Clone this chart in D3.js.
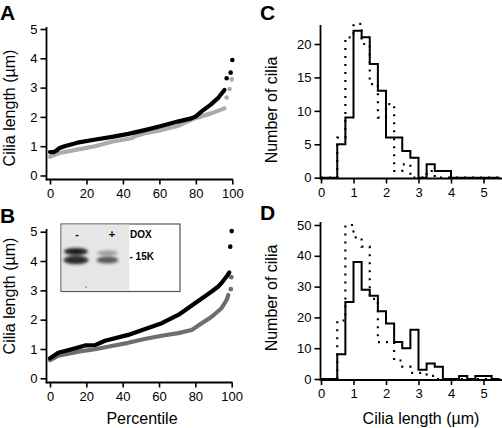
<!DOCTYPE html>
<html><head><meta charset="utf-8">
<script src="https://cdn.jsdelivr.net/npm/d3@7"></script>
<style>
body{margin:0;background:#fff}
svg{display:block}
text{font-family:"Liberation Sans",Arial,Helvetica,sans-serif;fill:#000}
</style>
</head><body>
<svg id="c" width="502" height="428"></svg>
<script>
// ---- Data ----
// Panel A: percentile vs cilia length
const aBlack = [[0,0.80],[2,0.80],[3.5,0.85],[5,0.93],[8,1.0],[15,1.12],[25,1.23],[34,1.32],[43,1.42],[52,1.55],[61,1.69],[70,1.84],[77.5,1.95],[80,2.02],[83,2.18],[88,2.41],[92,2.63],[95.7,2.92]];
const aBlackDots = [[96.9,3.32],[99.1,3.51],[100,3.94]];
const aGray = [[0,0.64],[4.6,0.76],[15.5,0.89],[24.7,1.0],[33.8,1.15],[44.8,1.27],[47,1.35],[52,1.44],[61,1.55],[70,1.69],[79.3,1.95],[88.4,2.12],[95.7,2.29]];
const aGrayDots = [[96.9,2.66],[98.5,2.95],[99.7,3.28]];
// Panel B
const bBlack = [[0,0.68],[4.6,0.87],[11.9,0.99],[19.3,1.12],[24.8,1.13],[30.3,1.28],[43,1.48],[52,1.67],[61.5,1.88],[70.6,2.16],[79.8,2.56],[89,2.96],[92.6,3.13],[94.4,3.25],[97.2,3.47],[98.7,3.61]];
const bBlackDots = [[99.2,4.49],[100,5.02]];
const bGray = [[0,0.62],[4.6,0.77],[15.5,0.91],[24.8,0.99],[34,1.10],[43,1.21],[52,1.34],[61.5,1.45],[70.6,1.54],[78,1.65],[83.5,1.88],[89,2.10],[94.4,2.39],[97.2,2.67],[98.1,2.84]];
const bGrayDots = [[99.5,3.04],[99.8,3.45]];
// Panels C, D: histograms, bins of 0.25 µm from 0 to 5.5
const binStep = 0.25;
const cSolid  = [0,0,5,9,22,21,17,13,6,6,4,3,0,2,1,1,0,0,0,0,0,0];
const cDotted = [0,0,6,21,23,20,14,9,11,1,2,0,0,1,0,0,0,0,0,0,0,0];
const dSolid  = [0,0,8,25,38,29,27,22,18,12,10,16,3,5,4,0,0,1,0,1,1,0];
const dDotted = [0,0,19,50,46,43,26,12,12,6,4,2,2,1,0,0,0,0,0,0,0,0];
// Ticks
const pctTicks = [0,20,40,60,80,100];
const lenTicks = [0,1,2,3,4,5];
const cTicks = [0,5,10,15,20];
const dTicks = [0,10,20,30,40,50];

const svg = d3.select("#c");
const defs = svg.append("defs");
defs.append("filter").attr("id","blur").attr("x","-50%").attr("y","-100%").attr("width","200%").attr("height","300%")
  .append("feGaussianBlur").attr("stdDeviation",1.8);

const fmt = d3.format("d");
function axes(g, x, y, xTicks, yTicks, xAxisY, yAxisX, yTop, xRight){
  const ya = g.append("g").attr("transform",`translate(${yAxisX},0)`)
    .call(d3.axisLeft(y).tickValues(yTicks).tickFormat(fmt).tickSize(6).tickPadding(3).tickSizeOuter(0));
  ya.select(".domain").remove();
  const xa = g.append("g").attr("transform",`translate(0,${xAxisY})`)
    .call(d3.axisBottom(x).tickValues(xTicks).tickFormat(fmt).tickSize(5).tickPadding(4).tickSizeOuter(0));
  xa.select(".domain").remove();
  [ya,xa].forEach(a=>{
    a.attr("font-family",'"Liberation Sans",Arial,sans-serif').attr("font-size",13);
    a.selectAll("line").attr("stroke","#000").attr("stroke-width",1.6);
    a.selectAll("text").attr("fill","#000");
  });
  g.append("line").attr("x1",yAxisX).attr("x2",yAxisX).attr("y1",yTop).attr("y2",xAxisY+0.8)
    .attr("stroke","#000").attr("stroke-width",1.8);
  g.append("line").attr("x1",yAxisX-0.8).attr("x2",xRight).attr("y1",xAxisY).attr("y2",xAxisY)
    .attr("stroke","#000").attr("stroke-width",1.8);
}

function curve(g, x, y, pts, dots, color){
  g.append("path").datum(pts)
    .attr("d", d3.line().x(d=>x(d[0])).y(d=>y(d[1])))
    .attr("fill","none").attr("stroke",color).attr("stroke-width",4.2)
    .attr("stroke-linecap","round").attr("stroke-linejoin","round");
  g.selectAll(null).data(dots).join("circle")
    .attr("cx",d=>x(d[0])).attr("cy",d=>y(d[1])).attr("r",2.3).attr("fill",color);
}

function hist(g, x, y, counts, dotted){
  const pts = counts.map((c,i)=>[i*binStep,c]);
  pts.push([counts.length*binStep, counts[counts.length-1]]);
  const p = g.append("path").datum(pts)
    .attr("d", d3.line().x(d=>x(d[0])).y(d=>y(d[1])).curve(d3.curveStepAfter))
    .attr("fill","none").attr("stroke","#000").attr("stroke-width",2);
  if(dotted) p.attr("stroke-dasharray","2,6").attr("stroke-width",2.2);
}

function ylabel(g, txt, x, y){
  g.append("text").attr("transform",`translate(${x},${y}) rotate(-90)`)
    .attr("text-anchor","middle").attr("font-size",16).text(txt);
}
function letter(g, txt, x, y){
  g.append("text").attr("x",x).attr("y",y).attr("font-size",21).attr("font-weight","bold").text(txt);
}

// ---- Panel A ----
{
  const g = svg.append("g");
  const x = d3.scaleLinear([0,100],[50,232.3]);
  const y = d3.scaleLinear([0,5],[175.5,29]);
  axes(g,x,y,pctTicks,lenTicks,179.5,46.5,27,233);
  curve(g,x,y,aGray,aGrayDots,"#ababab");
  curve(g,x,y,aBlack,aBlackDots,"#000");
  ylabel(g,"Cilia length (µm)",15,108);
  letter(g,"A",0,20);
}
// ---- Panel B ----
{
  const g = svg.append("g");
  const x = d3.scaleLinear([0,100],[50,231.7]);
  const y = d3.scaleLinear([0,5],[378.3,231.7]);
  axes(g,x,y,pctTicks,lenTicks,382.5,46.5,229,232.5);
  curve(g,x,y,bGray,bGrayDots,"#6e6e6e");
  curve(g,x,y,bBlack,bBlackDots,"#000");
  ylabel(g,"Cilia length (µm)",15,296);
  letter(g,"B",0,223);
  g.append("text").attr("x",142).attr("y",424).attr("text-anchor","middle").attr("font-size",16).text("Percentile");
  // inset western blot
  const ins = g.append("g");
  ins.append("rect").attr("x",61).attr("y",224).attr("width",119).attr("height",67.5)
    .attr("fill","#fff").attr("stroke","#555").attr("stroke-width",1.2);
  ins.append("rect").attr("x",61.6).attr("y",224.6).attr("width",67.5).attr("height",66.3).attr("fill","#e6e6e6");
  const bands = ins.append("g").attr("filter","url(#blur)");
  bands.append("ellipse").attr("cx",76).attr("cy",251.5).attr("rx",12).attr("ry",3.6).attr("fill","#1a1a1a");
  bands.append("ellipse").attr("cx",76).attr("cy",260).attr("rx",12.5).attr("ry",4.2).attr("fill","#2a2a2a");
  bands.append("ellipse").attr("cx",107.5).attr("cy",253).attr("rx",10.5).attr("ry",2.6).attr("fill","#9a9a9a");
  bands.append("ellipse").attr("cx",107.5).attr("cy",260).attr("rx",11).attr("ry",3.6).attr("fill","#5a5a5a");
  ins.append("circle").attr("cx",86).attr("cy",287).attr("r",1).attr("fill","#999");
  ins.append("text").attr("x",77).attr("y",237.5).attr("text-anchor","middle").attr("font-size",11).attr("font-weight","bold").text("-");
  ins.append("text").attr("x",112).attr("y",238).attr("text-anchor","middle").attr("font-size",11).attr("font-weight","bold").text("+");
  ins.append("text").attr("x",130).attr("y",238).attr("font-size",10).attr("font-weight","bold").text("DOX");
  ins.append("text").attr("x",129.5).attr("y",259.5).attr("font-size",10).attr("font-weight","bold").text("- 15K");
}
// ---- Panel C ----
{
  const g = svg.append("g");
  const x = d3.scaleLinear([0,5],[321,483.5]);
  const y = d3.scaleLinear([0,20],[177.7,44]);
  axes(g,x,y,lenTicks,cTicks,178.5,320.5,25,502);
  hist(g,x,y,cDotted,true);
  hist(g,x,y,cSolid,false);
  ylabel(g,"Number of cilia",277,110);
  letter(g,"C",260,20);
}
// ---- Panel D ----
{
  const g = svg.append("g");
  const x = d3.scaleLinear([0,5],[321,483.5]);
  const y = d3.scaleLinear([0,50],[379,225]);
  axes(g,x,y,lenTicks,dTicks,380,320.5,222,502);
  hist(g,x,y,dDotted,true);
  hist(g,x,y,dSolid,false);
  ylabel(g,"Number of cilia",277,298);
  letter(g,"D",260,220);
  g.append("text").attr("x",421).attr("y",424).attr("text-anchor","middle").attr("font-size",16).text("Cilia length (µm)");
}
</script>
</body></html>
